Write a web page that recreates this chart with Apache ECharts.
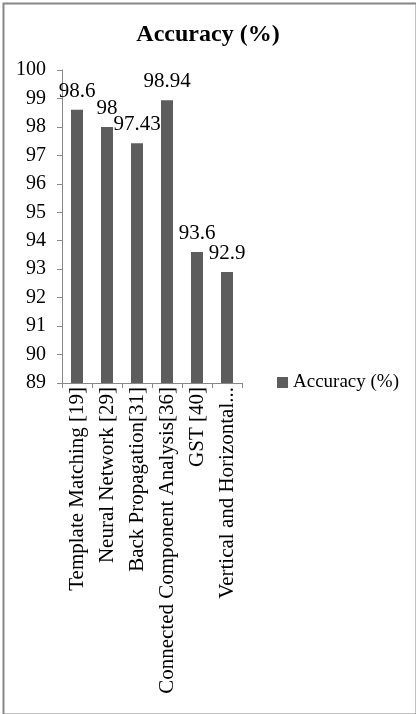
<!DOCTYPE html>
<html>
<head>
<meta charset="utf-8">
<script src="https://cdn.jsdelivr.net/npm/echarts@6/dist/echarts.min.js"></script>
<style>
html,body{margin:0;padding:0;background:#fff;}
#c{width:416px;height:714px;}
</style>
</head>
<body>
<div id="c"></div>
<script>
var titleText = 'Accuracy (%)';
var seriesName = 'Accuracy (%)';
var categories = ['Template Matching [19]', 'Neural Network [29]', 'Back Propagation[31]', 'Connected Component Analysis[36]', 'GST [40]', 'Vertical and Horizontal...'];
var values = [98.6, 98, 97.43, 98.94, 93.6, 92.9];
var yMin = 89, yMax = 100, yStep = 1;

var font = '"Liberation Serif","Times New Roman",serif';
var chart = echarts.init(document.getElementById('c'), null, {renderer: 'canvas'});
chart.setOption({
  animation: false,
  backgroundColor: '#fff',
  graphic: [{
    type: 'rect', left: 1, top: 1, silent: true,
    shape: {width: 413, height: 711},
    style: {fill: 'none', stroke: '#888', lineWidth: 2}
  }],
  title: {
    text: titleText, left: 'center', top: 18,
    textStyle: {fontFamily: font, fontWeight: 'bold', fontSize: 24, color: '#000'}
  },
  legend: {
    data: [seriesName], left: 272, top: 368, icon: 'rect', itemWidth: 11, itemHeight: 11, itemGap: 5,
    textStyle: {fontFamily: font, fontSize: 19, color: '#000'}
  },
  grid: {left: 62, right: 174, top: 70, bottom: 331, containLabel: false},
  xAxis: {
    type: 'category', data: categories,
    axisLine: {lineStyle: {color: '#888'}},
    axisTick: {show: true, length: 5, lineStyle: {color: '#888'}},
    axisLabel: {rotate: 90, interval: 0, margin: 4, fontFamily: font, fontSize: 21, color: '#000'}
  },
  yAxis: {
    type: 'value', min: yMin, max: yMax, interval: yStep,
    axisLine: {show: true, lineStyle: {color: '#888'}},
    axisTick: {show: true, length: 5, lineStyle: {color: '#888'}},
    splitLine: {show: false},
    axisLabel: {margin: 16, fontFamily: font, fontSize: 20, color: '#000'}
  },
  series: [{
    name: seriesName, type: 'bar', data: values, barWidth: 12,
    itemStyle: {color: '#5d5d5d'},
    label: {show: true, position: 'top', distance: 8, fontFamily: font, fontSize: 21, color: '#000'}
  }]
});
</script>
</body>
</html>
